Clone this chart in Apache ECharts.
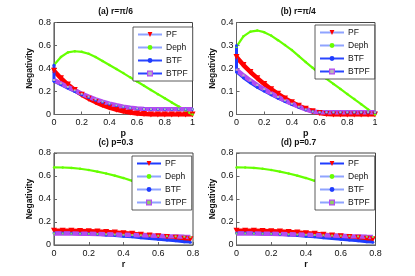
<!DOCTYPE html>
<html><head><meta charset="utf-8">
<script src="https://cdn.jsdelivr.net/npm/echarts@6/dist/echarts.min.js"></script>
<style>html,body{margin:0;padding:0;background:#fff}#c{width:415px;height:276px}</style>
</head><body><div id="c"></div>
<script>
// ---------- data ----------
const seriesNames = ['PF', 'Deph', 'BTF', 'BTPF'];
const pValues = [0,0.05,0.1,0.15,0.2,0.25,0.3,0.35,0.4,0.45,0.5,0.55,0.6,0.65,0.7,0.75,0.8,0.85,0.9,0.95,1];
const rValues = [0,0.05,0.1,0.15,0.2,0.25,0.3,0.35,0.4,0.45,0.5,0.55,0.6,0.65,0.7,0.75,0.785];

// (a) r = pi/6
const aPF   = [0.38,0.315,0.26,0.212,0.172,0.138,0.108,0.082,0.06,0.042,0.028,0.017,0.009,0.004,0.001,0,0,0,0,0,0];
const aDeph = [0.43,0.50,0.54,0.55,0.545,0.528,0.50,0.465,0.43,0.395,0.36,0.323,0.287,0.25,0.213,0.177,0.141,0.105,0.07,0.035,0];
const aBTFStart = 0.43;
const aBTF  = [0.29,0.26,0.23,0.2,0.172,0.147,0.125,0.106,0.09,0.076,0.065,0.056,0.05,0.047,0.046,0.046,0.046,0.046,0.046,0.046,0.046];
const aBTPF = [0.30,0.27,0.24,0.21,0.18,0.155,0.132,0.112,0.095,0.08,0.068,0.058,0.052,0.048,0.046,0.046,0.046,0.046,0.046,0.046,0.046];

// (b) r = pi/4
const bPF   = [0.25,0.215,0.185,0.158,0.133,0.11,0.09,0.07,0.053,0.038,0.025,0.014,0.006,0.002,0,0,0,0,0,0,0];
const bDeph = [0.295,0.34,0.36,0.365,0.358,0.343,0.323,0.302,0.28,0.254,0.228,0.203,0.178,0.155,0.133,0.111,0.089,0.067,0.045,0.022,0];
const bBTFStart = 0.30;
const bBTF  = [0.185,0.16,0.138,0.119,0.102,0.086,0.071,0.057,0.044,0.032,0.021,0.013,0.01,0.01,0.01,0.01,0.01,0.01,0.01,0.01,0.01];
const bBTPF = [0.195,0.17,0.148,0.128,0.11,0.092,0.076,0.061,0.047,0.034,0.022,0.013,0.01,0.01,0.01,0.01,0.01,0.01,0.01,0.01,0.01];

// (c) p = 0.3
const cPF   = [0.125,0.125,0.124,0.122,0.12,0.117,0.113,0.108,0.103,0.097,0.09,0.083,0.076,0.069,0.062,0.055,0.05];
const cDeph = [0.675,0.674,0.67,0.663,0.652,0.638,0.622,0.603,0.582,0.558,0.532,0.503,0.473,0.44,0.405,0.368,0.34];
const cBTF  = [0.105,0.104,0.103,0.1,0.097,0.093,0.088,0.083,0.077,0.071,0.064,0.057,0.05,0.043,0.036,0.029,0.025];
const cBTPF = [0.1,0.1,0.099,0.098,0.097,0.095,0.093,0.091,0.089,0.087,0.085,0.082,0.08,0.077,0.075,0.072,0.07];

// (d) p = 0.7
const dPF   = [0.125,0.125,0.124,0.122,0.12,0.117,0.113,0.108,0.103,0.097,0.09,0.083,0.076,0.069,0.062,0.055,0.05];
const dDeph = [0.675,0.674,0.67,0.663,0.652,0.638,0.622,0.603,0.582,0.558,0.532,0.503,0.473,0.44,0.405,0.368,0.34];
const dBTF  = [0.105,0.104,0.103,0.1,0.097,0.093,0.088,0.083,0.077,0.071,0.064,0.057,0.05,0.043,0.036,0.029,0.025];
const dBTPF = [0.1,0.1,0.099,0.098,0.097,0.095,0.093,0.091,0.089,0.087,0.085,0.082,0.08,0.077,0.075,0.072,0.07];

const titles = ['(a) r=\u03c0/6', '(b) r=\u03c0/4', '(c) p=0.3', '(d) p=0.7'];
const xNames = ['p', 'p', 'r', 'r'];
const xMax = [1, 1, 0.8, 0.8];
const yMax = [0.8, 0.4, 0.8, 0.8];
const yInterval = [0.2, 0.1, 0.2, 0.2];

// ---------- layout ----------
const grids = [
  {left: 54, top: 22.5, width: 138.5, height: 92},
  {left: 236.5, top: 22.5, width: 138.5, height: 92},
  {left: 54, top: 153, width: 139, height: 92},
  {left: 236.5, top: 153, width: 139, height: 92}
];
const legendPos = [
  {left: 133, top: 27}, {left: 315, top: 25}, {left: 132, top: 156}, {left: 315, top: 156}
];
const legendLineColors = [
  ['#8fa3ff', '#8fa3ff', '#2a46ff', '#2a46ff'],
  ['#8fa3ff', '#8fa3ff', '#2a46ff', '#2a46ff'],
  ['#1f3cff', '#8fa3ff', '#8fa3ff', '#8fa3ff'],
  ['#1f3cff', '#8fa3ff', '#8fa3ff', '#8fa3ff']
];
const btpfCenter = ['#b8b8b8', '#b8b8b8', '#8fd060', '#8fd060'];

const RED = '#ff0000', GREEN = '#66ff00', BLUE = '#1f3cff', PURPLE = '#b44cf0';
const font = 'Liberation Sans';

function pairs(xs, ys) { return xs.map((x, i) => [x, ys[i]]); }

const panels = [
  {x: pValues, PF: aPF, Deph: aDeph, BTF: aBTF, BTFStart: aBTFStart, BTPF: aBTPF},
  {x: pValues, PF: bPF, Deph: bDeph, BTF: bBTF, BTFStart: bBTFStart, BTPF: bBTPF},
  {x: rValues, PF: cPF, Deph: cDeph, BTF: cBTF, BTPF: cBTPF},
  {x: rValues, PF: dPF, Deph: dDeph, BTF: dBTF, BTPF: dBTPF}
];

const xAxis = [], yAxis = [], series = [], legend = [], graphic = [];
panels.forEach((pn, k) => {
  xAxis.push({
    type: 'value', gridIndex: k, min: 0, max: xMax[k], interval: 0.2,
    name: xNames[k], nameLocation: 'middle', nameGap: 15,
    nameTextStyle: {fontFamily: font, fontSize: 9, fontWeight: 'bold', color: '#111'},
    axisLine: {show: true, lineStyle: {color: '#666', width: 1}},
    axisTick: {show: true, inside: true, length: 3, lineStyle: {color: '#666'}},
    axisLabel: {fontFamily: font, fontSize: 9, color: '#111', margin: 4},
    splitLine: {show: false}
  });
  yAxis.push({
    type: 'value', gridIndex: k, min: 0, max: yMax[k], interval: yInterval[k],
    name: 'Negativity', nameLocation: 'middle', nameGap: 18, nameRotate: 90,
    nameTextStyle: {fontFamily: font, fontSize: 8.5, fontWeight: 'bold', color: '#111'},
    axisLine: {show: true, lineStyle: {color: '#666', width: 1}},
    axisTick: {show: true, inside: true, length: 3, lineStyle: {color: '#666'}},
    axisLabel: {fontFamily: font, fontSize: 9, color: '#111', margin: 3},
    splitLine: {show: false}
  });
  const pf = pairs(pn.x, pn.PF);
  const deph = pairs(pn.x, pn.Deph);
  let btf = pairs(pn.x, pn.BTF);
  if (pn.BTFStart !== undefined) btf = [[pn.x[0], pn.BTFStart]].concat(btf);
  const btpf = pairs(pn.x, pn.BTPF);
  series.push({
    name: 'PF', type: 'line', xAxisIndex: k, yAxisIndex: k, data: pf,
    symbol: 'triangle', symbolRotate: 180, symbolSize: 6, showSymbol: true,
    lineStyle: {color: RED, width: 4.5}, itemStyle: {color: RED}, silent: true, animation: false
  });
  series.push({
    name: 'Deph', type: 'line', xAxisIndex: k, yAxisIndex: k, data: deph,
    symbol: 'circle', symbolSize: 2.5, showSymbol: true,
    lineStyle: {color: GREEN, width: 2.2}, itemStyle: {color: GREEN}, silent: true, animation: false
  });
  series.push({
    name: 'BTF', type: 'line', xAxisIndex: k, yAxisIndex: k, data: btf,
    symbol: 'circle', symbolSize: 3, showSymbol: true,
    lineStyle: {color: BLUE, width: 3}, itemStyle: {color: BLUE}, silent: true, animation: false
  });
  series.push({
    name: 'BTPF', type: 'line', xAxisIndex: k, yAxisIndex: k, data: btpf,
    symbol: 'rect', symbolSize: 2, showSymbol: true,
    lineStyle: {color: PURPLE, width: 4.5},
    itemStyle: {color: btpfCenter[k]}, silent: true, animation: false
  });
  legend.push({
    left: legendPos[k].left, top: legendPos[k].top, orient: 'vertical',
    itemWidth: 24, itemHeight: 6, itemGap: 4, padding: [3, 5, 3, 4],
    backgroundColor: '#fff', borderColor: '#333', borderWidth: 0.8,
    textStyle: {fontFamily: font, fontSize: 8.5, color: '#111', padding: [0, 0, 0, -1]},
    selectedMode: false,
    data: seriesNames.map((n, i) => ({
      name: n, lineStyle: {color: legendLineColors[k][i], width: 2},
      itemStyle: n === 'BTPF' ? {color: btpfCenter[k], borderColor: PURPLE, borderWidth: 1.2} : undefined
    }))
  });
  const g = grids[k];
  graphic.push({
    type: 'text', left: g.left + g.width / 2 - 25, top: g.top - 15,
    style: {text: titles[k], font: 'bold 8.5px "Liberation Sans"', fill: '#111', width: 50, align: 'center'}
  });
});

const chart = echarts.init(document.getElementById('c'), null, {renderer: 'canvas'});
chart.setOption({
  animation: false,
  grid: grids.map(g => Object.assign({show: true, borderColor: '#444', borderWidth: 1, backgroundColor: '#fff'}, g)),
  xAxis, yAxis, series, legend, graphic
});
</script></body></html>
